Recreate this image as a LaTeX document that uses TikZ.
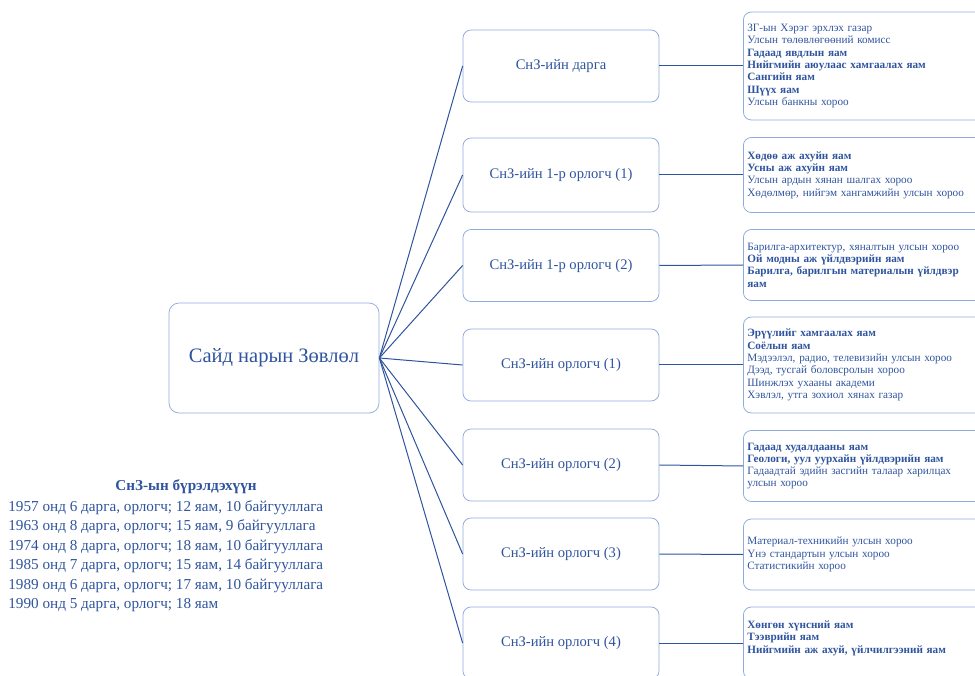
\documentclass[tikz,border=0pt]{standalone}
\usepackage{fontspec}
\setmainfont{Liberation Serif}
\definecolor{sznavy}{RGB}{47,84,158}
\definecolor{szedge}{RGB}{143,170,220}

\tikzset{every picture/.style={line width=0.75pt}}
\tikzset{
  rootbox/.style={draw=szedge, rounded corners=10, minimum width=210, minimum height=110, text=sznavy, font=\fontsize{20.5}{24}\selectfont},
  midbox/.style={draw=szedge, rounded corners=8, minimum width=196, minimum height=72, text=sznavy, font=\fontsize{14.6}{17}\selectfont},
  listbox/.style={draw=szedge, rounded corners=8, anchor=west, text width=240, inner xsep=4, align=left, text=sznavy, font=\fontsize{11.2}{12.3}\selectfont},
  link/.style={draw=sznavy, line width=1pt}
}

\begin{document}
\begin{tikzpicture}[x=1pt,y=1pt,yscale=-1,xscale=1]
	\useasboundingbox (0,0) rectangle (975,676);
	\clip (0,0) rectangle (975,676);

	% Root
	\node[rootbox] (root) at (274,358) {Сайд нарын Зөвлөл};

	% Middle boxes
	\node[midbox] (m1) at (561,66) {СнЗ-ийн дарга};
	\node[midbox, minimum height=74] (m2) at (561,175) {СнЗ-ийн 1-р орлогч (1)};
	\node[midbox] (m3) at (561,265.5) {СнЗ-ийн 1-р орлогч (2)};
	\node[midbox] (m4) at (561,365) {СнЗ-ийн орлогч (1)};
	\node[midbox] (m5) at (561,465) {СнЗ-ийн орлогч (2)};
	\node[midbox] (m6) at (561,554) {СнЗ-ийн орлогч (3)};
	\node[midbox] (m7) at (561,643) {СнЗ-ийн орлогч (4)};

	% Right boxes
	\node[listbox, minimum height=108] (r1) at (743,66) {ЗГ-ын Хэрэг эрхлэх газар\\Улсын төлөвлөгөөний комисс\\\textbf{Гадаад явдлын яам}\\\textbf{Нийгмийн аюулаас хамгаалах яам}\\\textbf{Сангийн яам}\\\textbf{Шүүх яам}\\Улсын банкны хороо};
	\node[listbox, minimum height=75] (r2) at (743,175) {\textbf{Хөдөө аж ахуйн яам}\\\textbf{Усны аж ахуйн яам}\\Улсын ардын хянан шалгах хороо\\Хөдөлмөр, нийгэм хангамжийн улсын хороо};
	\node[listbox, minimum height=71] (r3) at (743,265) {Барилга-архитектур, хяналтын улсын хороо\\\textbf{Ой модны аж үйлдвэрийн яам}\\\textbf{Барилга, барилгын материалын үйлдвэр}\\\textbf{яам}};
	\node[listbox, minimum height=96] (r4) at (743,365) {\textbf{Эрүүлийг хамгаалах яам}\\\textbf{Соёлын яам}\\Мэдээлэл, радио, телевизийн улсын хороо\\Дээд, тусгай боловсролын хороо\\Шинжлэх ухааны академи\\Хэвлэл, утга зохиол хянах газар};
	\node[listbox, minimum height=71] (r5) at (743,466) {\textbf{Гадаад худалдааны яам}\\\textbf{Геологи, уул уурхайн үйлдвэрийн яам}\\Гадаадтай эдийн засгийн талаар харилцах\\улсын хороо};
	\node[listbox, minimum height=71] (r6) at (743,554.5) {Материал-техникийн улсын хороо\\Үнэ стандартын улсын хороо\\Статистикийн хороо};
	\node[listbox, minimum height=72] (r7) at (743,643) {\textbf{Хөнгөн хүнсний яам}\\\textbf{Тээврийн яам}\\\textbf{Нийгмийн аж ахуй, үйлчилгээний яам}\\~};

	% Connectors
	\foreach \i in {1,...,7} {
		\draw[link] (root.east) -- (m\i.west);
		\draw[link] (m\i.east) -- (r\i.west);
	}

	% Text Node
	\node[text=sznavy, font=\bfseries\fontsize{15.2}{17}\selectfont] (stafftitle) at (186,487) {СнЗ-ын бүрэлдэхүүн};
	% Text Node
	\node[text=sznavy, anchor=north west, align=left, inner sep=0, font=\fontsize{15.2}{19.5}\selectfont] (stafflist) at (8,500) {1957 онд 6 дарга, орлогч; 12 яам, 10 байгууллага\\1963 онд 8 дарга, орлогч; 15 яам, 9 байгууллага\\1974 онд 8 дарга, орлогч; 18 яам, 10 байгууллага\\1985 онд 7 дарга, орлогч; 15 яам, 14 байгууллага\\1989 онд 6 дарга, орлогч; 17 яам, 10 байгууллага\\1990 онд 5 дарга, орлогч; 18 яам};
\end{tikzpicture}
\end{document}
